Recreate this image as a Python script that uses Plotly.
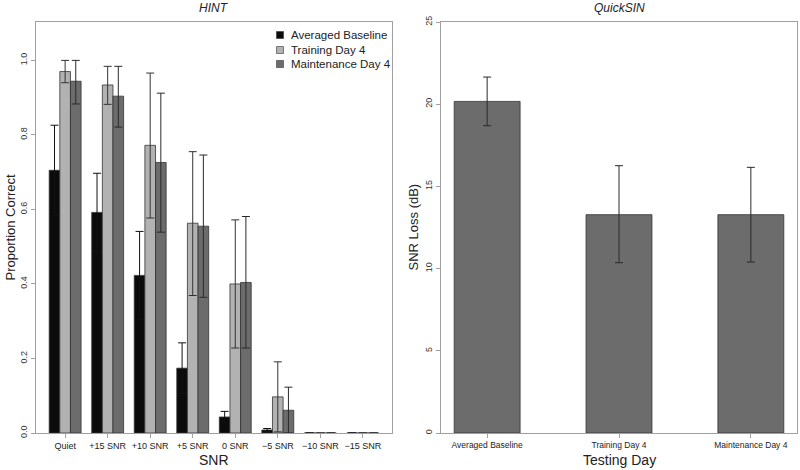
import plotly.graph_objects as go

# ---------------- data ----------------
snr_categories = ["Quiet", "+15 SNR", "+10 SNR", "+5 SNR", "0 SNR", "\u22125 SNR", "\u221210 SNR", "\u221215 SNR"]

baseline_mean = [0.705, 0.592, 0.423, 0.174, 0.043, 0.008, 0.0, 0.0]
baseline_hi   = [0.826, 0.697, 0.541, 0.242, 0.058, 0.012, 0.0, 0.0]
baseline_lo   = [0.584, 0.487, 0.305, 0.106, 0.028, 0.004, 0.0, 0.0]

training_mean = [0.970, 0.934, 0.772, 0.563, 0.400, 0.097, 0.0, 0.0]
training_hi   = [1.000, 0.984, 0.966, 0.755, 0.572, 0.191, 0.0, 0.0]
training_lo   = [0.940, 0.882, 0.577, 0.369, 0.228, 0.003, 0.0, 0.0]

maint_mean = [0.944, 0.904, 0.726, 0.555, 0.404, 0.061, 0.0, 0.0]
maint_hi   = [1.000, 0.984, 0.912, 0.746, 0.581, 0.123, 0.0, 0.0]
maint_lo   = [0.883, 0.821, 0.539, 0.364, 0.228, 0.000, 0.0, 0.0]

days = ["Averaged Baseline", "Training Day 4", "Maintenance Day 4"]
quicksin_mean = [20.17, 13.28, 13.28]
quicksin_hi   = [21.65, 16.26, 16.16]
quicksin_lo   = [18.69, 10.36, 10.40]

y1_ticks = [0.0, 0.2, 0.4, 0.6, 0.8, 1.0]
y1_ticktext = ["0.0", "0.2", "0.4", "0.6", "0.8", "1.0"]
y2_ticks = [0, 5, 10, 15, 20, 25]

# ---------------- styling ----------------
FONT = "Liberation Sans, Arial, Helvetica, sans-serif"
C_BLACK = "#0b0b0b"
C_LIGHT = "#b2b2b2"
C_DARK = "#6c6c6c"
AX = "#a0a0a0"


def err(mean, hi, lo, color):
    up = [h - m for h, m in zip(hi, mean)]
    dn = [m - l for m, l in zip(mean, lo)]
    return dict(type="data", symmetric=False, array=up, arrayminus=dn,
                color=color, thickness=1, width=4)


fig = go.Figure()
series = [
    ("Averaged Baseline", baseline_mean, baseline_hi, baseline_lo, C_BLACK, "#111111"),
    ("Training Day 4", training_mean, training_hi, training_lo, C_LIGHT, "#333333"),
    ("Maintenance Day 4", maint_mean, maint_hi, maint_lo, C_DARK, "#2a2a2a"),
]
for name, m, h, l, c, ec in series:
    fig.add_trace(go.Bar(
        x=snr_categories, y=m, name=name, xaxis="x", yaxis="y",
        showlegend=False,
        marker=dict(color=c, line=dict(color="#333333", width=0.8)),
        error_y=err(m, h, l, ec),
    ))

fig.add_trace(go.Bar(
    x=days, y=quicksin_mean, xaxis="x2", yaxis="y2", showlegend=False,
    marker=dict(color=C_DARK, line=dict(color="#333333", width=0.8)),
    error_y=err(quicksin_mean, quicksin_hi, quicksin_lo, "#2a2a2a"),
    width=0.5,
))

W, H = 800, 470
ML, MR, MT, MB = 36, 3, 22, 37
PW = float(W - ML - MR)
PH = float(H - MT - MB)
dom1 = [0, (392 - ML) / PW]
dom2 = [(441 - ML) / PW, 1]


def px_x(px):
    return (px - ML) / PW


def px_y(py):
    return (H - MB - py) / PH


common_ax = dict(showline=True, linecolor=AX, linewidth=1, mirror=True,
                 showgrid=False, zeroline=False, ticks="outside",
                 ticklen=4, tickcolor=AX, tickwidth=1)

# legend (drawn manually so its spacing matches the compact original)
shapes = []
annotations = []
leg_y = [35, 50, 64]
for (name, _, _, _, c, _), yy in zip(series, leg_y):
    shapes.append(dict(type="rect", xref="paper", yref="paper",
                       x0=px_x(276.5), x1=px_x(283.5),
                       y0=px_y(yy + 3.5), y1=px_y(yy - 3.5),
                       fillcolor=c, line=dict(color="#333333", width=0.6)))
    annotations.append(dict(text=name, xref="paper", yref="paper",
                            x=px_x(289), y=px_y(yy), xanchor="left",
                            yanchor="middle", showarrow=False,
                            font=dict(size=11.5, color="#222222")))

annotations += [
    dict(text="<i>HINT</i>", xref="x domain", yref="paper", x=0.5,
         y=px_y(8), showarrow=False, font=dict(size=12),
         xanchor="center", yanchor="middle"),
    dict(text="<i>QuickSIN</i>", xref="x2 domain", yref="paper", x=0.5,
         y=px_y(8), showarrow=False, font=dict(size=12),
         xanchor="center", yanchor="middle"),
    dict(text="SNR", xref="x domain", yref="paper", x=0.5,
         y=px_y(460), showarrow=False, font=dict(size=14),
         xanchor="center", yanchor="middle"),
    dict(text="Testing Day", xref="x2 domain", yref="paper", x=0.5,
         y=px_y(460), showarrow=False, font=dict(size=14),
         xanchor="center", yanchor="middle"),
    dict(text="Proportion Correct", xref="paper", yref="paper",
         x=px_x(10), y=0.5, textangle=-90, showarrow=False,
         font=dict(size=13), xanchor="center", yanchor="middle"),
    dict(text="SNR Loss (dB)", xref="paper", yref="paper",
         x=px_x(413), y=0.5, textangle=-90, showarrow=False,
         font=dict(size=13), xanchor="center", yanchor="middle"),
]

fig.update_layout(
    width=W, height=H,
    margin=dict(l=ML, r=MR, t=MT, b=MB, pad=0),
    paper_bgcolor="white", plot_bgcolor="white",
    barmode="group", bargap=0.25, bargroupgap=0,
    font=dict(family=FONT, color="#222222"),
    showlegend=False,
    xaxis=dict(domain=dom1, type="category", range=[-0.685, 7.685],
               tickfont=dict(size=9, color="#222222"), anchor="y", **common_ax),
    yaxis=dict(domain=[0, 1], range=[0, 1.103], tickvals=y1_ticks,
               ticktext=y1_ticktext, tickangle=-90,
               tickfont=dict(size=9, color="#333333"), anchor="x", **common_ax),
    xaxis2=dict(domain=dom2, type="category", range=[-0.35, 2.35],
                tickfont=dict(size=8.5, color="#222222"), anchor="y2", **common_ax),
    yaxis2=dict(domain=[0, 1], range=[0, 25], tickvals=y2_ticks, tickangle=-90,
                tickfont=dict(size=9, color="#333333"), anchor="x2", **common_ax),
    shapes=shapes,
    annotations=annotations,
)

fig.write_html("out.html", config={"displayModeBar": False},
               post_script="document.body.style.margin='0';document.body.style.padding='0';")
